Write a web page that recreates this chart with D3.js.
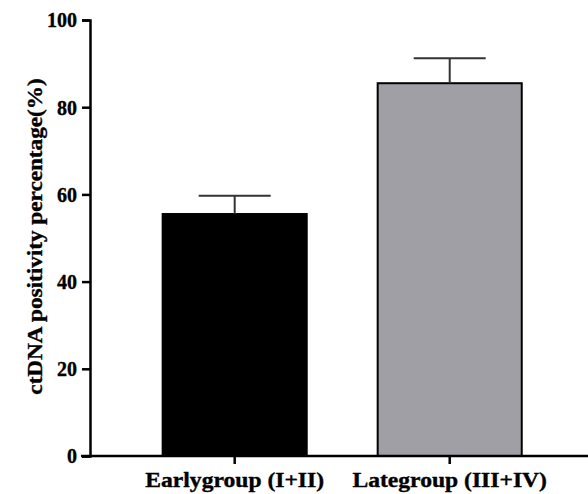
<!DOCTYPE html>
<html>
<head>
<meta charset="utf-8">
<script src="https://cdn.jsdelivr.net/npm/d3@7"></script>
<style>
  html, body { margin: 0; padding: 0; background: #fff; }
  svg { display: block; }
  .lab {
    font-family: "Liberation Serif", "Times New Roman", serif;
    font-weight: bold;
    fill: #000;
    stroke: #000;
    stroke-width: 0.35px;
  }
</style>
</head>
<body>
<svg id="chart" width="588" height="494"></svg>
<script>
// data
const groups = ["Earlygroup (I+II)", "Lategroup (III+IV)"];
const means = [55.5, 85.5];
const errTop = [59.7, 91.2];
const fills = ["#000000", "#a09fa5"];
const yTicks = [0, 20, 40, 60, 80, 100];

const svg = d3.select("#chart");

const y = d3.scaleLinear().domain([0, 100]).range([456, 20]);
const x = d3.scaleBand()
  .domain(groups)
  .range([91.7, 592.7])
  .paddingInner(0.33)
  .paddingOuter(0.33);

// bars
svg.selectAll("rect.bar")
  .data(groups)
  .enter()
  .append("rect")
  .attr("class", "bar")
  .attr("x", d => x(d))
  .attr("y", (d, i) => y(means[i]))
  .attr("width", x.bandwidth())
  .attr("height", (d, i) => y(0) - y(means[i]))
  .attr("fill", (d, i) => fills[i])
  .attr("stroke", "#000")
  .attr("stroke-width", 2);

// error bars (upper only)
const capW = 72;
const eb = svg.selectAll("g.err")
  .data(groups)
  .enter()
  .append("g")
  .attr("class", "err");

eb.append("line")
  .attr("x1", d => x(d) + x.bandwidth() / 2)
  .attr("x2", d => x(d) + x.bandwidth() / 2)
  .attr("y1", (d, i) => y(means[i]))
  .attr("y2", (d, i) => y(errTop[i]))
  .attr("stroke", "#333")
  .attr("stroke-width", 2);

eb.append("line")
  .attr("x1", d => x(d) + x.bandwidth() / 2 - capW / 2)
  .attr("x2", d => x(d) + x.bandwidth() / 2 + capW / 2)
  .attr("y1", (d, i) => y(errTop[i]))
  .attr("y2", (d, i) => y(errTop[i]))
  .attr("stroke", "#333")
  .attr("stroke-width", 2);

// y axis
const yAxis = svg.append("g")
  .attr("transform", "translate(90,0)")
  .call(d3.axisLeft(y).tickValues(yTicks).tickSize(8).tickPadding(5));
yAxis.select(".domain").attr("stroke", "#000").attr("stroke-width", 2.5);
yAxis.selectAll(".tick line").attr("stroke", "#000").attr("stroke-width", 2.5);
yAxis.selectAll(".tick text")
  .attr("class", "lab")
  .style("font-size", "20px")
  .attr("dy", "0.34em");

// x axis
const xAxis = svg.append("g")
  .attr("transform", "translate(0,456)")
  .call(d3.axisBottom(x).tickSize(8).tickSizeOuter(0));
xAxis.select(".domain").remove();
xAxis.append("line")
  .attr("x1", 81).attr("x2", 588)
  .attr("y1", 0).attr("y2", 0)
  .attr("stroke", "#000")
  .attr("stroke-width", 2.5);
xAxis.selectAll(".tick line").attr("stroke", "#000").attr("stroke-width", 2.5);
xAxis.selectAll(".tick text")
  .attr("class", "lab")
  .style("font-size", "20px")
  .attr("y", 31)
  .attr("dy", null)
  .attr("transform", "scale(1.18,1)");

// y title
svg.append("text")
  .attr("class", "lab")
  .attr("transform", `translate(42,${(80 + 393) / 2}) rotate(-90) scale(1.16,1)`)
  .attr("text-anchor", "middle")
  .style("font-size", "20px")
  .text("ctDNA positivity percentage(%)");
</script>
</body>
</html>
